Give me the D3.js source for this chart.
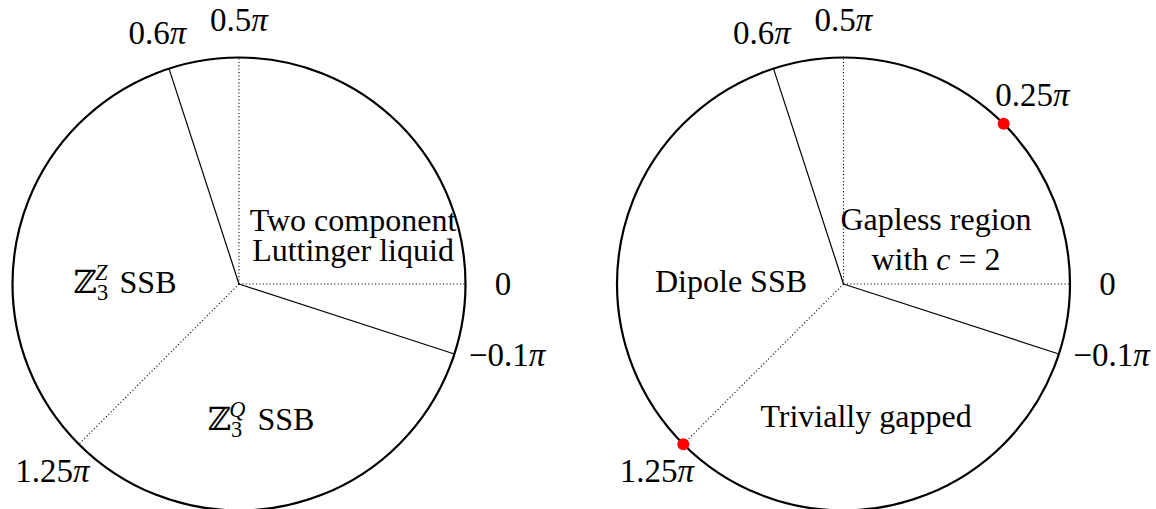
<!DOCTYPE html>
<html>
<head>
<meta charset="utf-8">
<script src="https://cdn.jsdelivr.net/npm/d3@7/dist/d3.min.js"></script>
<style>
  body { margin: 0; background: #fff; }
  text { font-family: "Liberation Serif", "DejaVu Serif", serif; fill: #000; }
</style>
</head>
<body>
<svg id="chart" width="1156" height="509"></svg>
<script>
  'use strict';

  // boundary angles, in units of pi
  var boundaryAngles = [0.6, 0.5, 0, -0.1, 1.25];
  var boundaryDotted = [false, true, true, false, true];
  var tickLabels = ['0.6', '0.5', '0', '-0.1', '1.25'];

  // marked points on the right diagram (units of pi)
  var markedAngles = [0.25, 1.25];
  var markedLabels = ['0.25', null];

  // region labels: lines of text (math parts handled by makeLine)
  var leftRegions = [
    ['Two component', 'Luttinger liquid'],
    ['Z3Z'],
    ['Z3Q']
  ];
  var rightRegions = [
    ['Gapless region', 'with c=2'],
    ['Dipole SSB'],
    ['Trivially gapped']
  ];

  var width = 1156,
      height = 509,
      radius = 226.5,
      fontSize = 32,
      tickFontSize = 33,
      labelRadius = 264,
      centers = [[239, 284], [843.5, 284]];

  // offsets of region label baselines from the circle centre, [dx, dy, lineGap]
  var leftRegionLayout = [[114, -53, 30], [-114, 9, 0], [22, 146, 0]];
  var rightRegionLayout = [[92.5, -54, 40], [-112.5, 8, 0], [22.5, 143, 0]];
  // extra nudge for the wide -0.1pi label
  var labelShift = { '-0.1': [17, -10] };

  var svg = d3.select('#chart');

  var angle = d3.scaleLinear().domain([0, 2]).range([0, 2 * Math.PI]);
  var rad = d3.scaleLinear().domain([0, 1]).range([0, radius]);

  function polar(c, a, r) {
    return [c[0] + r * Math.cos(angle(a)), c[1] - r * Math.sin(angle(a))];
  }

  // "0.5" -> 0.5π with italic pi
  function piLabel(sel, v) {
    if (v === '0') {
      sel.append('tspan').text('0');
      return;
    }
    sel.append('tspan').text(v.replace('-', '\u2212'));
    sel.append('tspan').attr('font-style', 'italic').text('\u03c0');
  }

  function makeLine(sel, line) {
    if (line === 'Z3Z' || line === 'Z3Q') {
      var sup = line.charAt(2);
      sel.append('tspan').text('\u2124');
      sel.append('tspan').attr('font-size', fontSize * 0.7)
        .attr('dy', 7).text('3');
      sel.append('tspan').attr('font-size', fontSize * 0.7)
        .attr('font-style', 'italic')
        .attr('dx', -13).attr('dy', -20).text(sup);
      sel.append('tspan').attr('dy', 13).attr('dx', 4).text(' SSB');
    } else if (line === 'with c=2') {
      sel.append('tspan').text('with ');
      sel.append('tspan').attr('font-style', 'italic').text('c');
      sel.append('tspan').text(' = 2');
    } else {
      sel.append('tspan').text(line);
    }
  }

  function drawDiagram(c, regions, layout, marks) {
    var g = svg.append('g');

    // boundaries
    g.selectAll('line.bound')
      .data(boundaryAngles)
      .enter()
      .append('line')
        .attr('class', 'bound')
        .attr('x1', c[0])
        .attr('y1', c[1])
        .attr('x2', function (d) { return polar(c, d, rad(1))[0]; })
        .attr('y2', function (d) { return polar(c, d, rad(1))[1]; })
        .attr('stroke', '#000')
        .attr('stroke-width', function (d, i) { return boundaryDotted[i] ? 1.1 : 1.2; })
        .attr('stroke-dasharray', function (d, i) { return boundaryDotted[i] ? '1.1,2.3' : null; });

    // outer circle
    g.append('circle')
      .attr('cx', c[0])
      .attr('cy', c[1])
      .attr('r', rad(1))
      .attr('fill', 'none')
      .attr('stroke', '#000')
      .attr('stroke-width', 2.2);

    // angle labels
    g.selectAll('text.tick')
      .data(tickLabels)
      .enter()
      .append('text')
        .attr('class', 'tick')
        .attr('font-size', tickFontSize)
        .attr('text-anchor', 'middle')
        .attr('transform', function (d, i) {
          var p = polar(c, boundaryAngles[i], labelRadius),
              s = labelShift[d] || [0, 0];
          return 'translate(' + (p[0] + s[0]) + ',' + (p[1] + s[1] + tickFontSize * 0.33) + ')';
        })
        .each(function (d) { piLabel(d3.select(this), d); });

    // region labels
    regions.forEach(function (lines, i) {
      var l = layout[i];
      lines.forEach(function (line, j) {
        var t = g.append('text')
          .attr('font-size', fontSize)
          .attr('text-anchor', 'middle')
          .attr('x', c[0] + l[0])
          .attr('y', c[1] + l[1] + j * l[2]);
        makeLine(t, line);
      });
    });

    if (marks) {
      g.selectAll('circle.mark')
        .data(markedAngles)
        .enter()
        .append('circle')
          .attr('class', 'mark')
          .attr('cx', function (d) { return polar(c, d, rad(1))[0]; })
          .attr('cy', function (d) { return polar(c, d, rad(1))[1]; })
          .attr('r', 6)
          .attr('fill', '#ff0000');

      g.selectAll('text.mark')
        .data(markedLabels.filter(function (d) { return d; }))
        .enter()
        .append('text')
          .attr('class', 'mark')
          .attr('font-size', tickFontSize)
          .attr('text-anchor', 'middle')
          .attr('transform', function (d) {
            var p = polar(c, +d, labelRadius + 3);
            return 'translate(' + p[0] + ',' + (p[1] + tickFontSize * 0.33) + ')';
          })
          .each(function (d) { piLabel(d3.select(this), d); });
    }
  }

  drawDiagram(centers[0], leftRegions, leftRegionLayout, false);
  drawDiagram(centers[1], rightRegions, rightRegionLayout, true);
</script>
</body>
</html>
